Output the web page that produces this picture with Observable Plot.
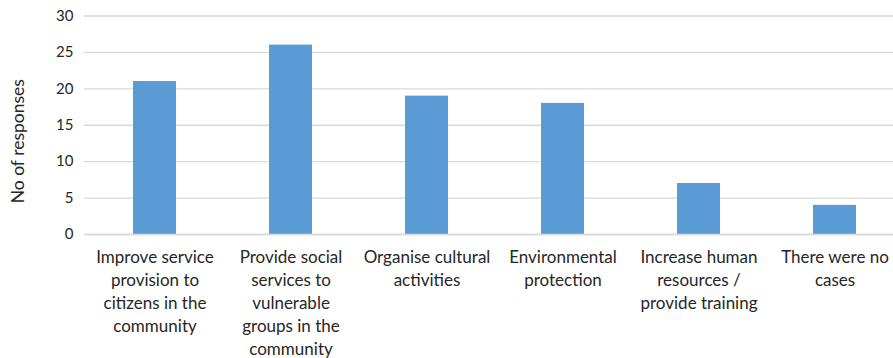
<!DOCTYPE html>
<html><head><meta charset="utf-8">
<script src="https://cdn.jsdelivr.net/npm/d3@7"></script>
<script src="https://cdn.jsdelivr.net/npm/@observablehq/plot@0.6"></script>
<style>
html,body{margin:0;padding:0;background:#fff;overflow:hidden;width:893px;height:358px;}
svg{display:block;max-width:none !important;height:358px !important;}
</style></head>
<body><div id="chart"></div>
<script>
const categories = [
  "Improve service provision to citizens in the community",
  "Provide social services to vulnerable groups in the community",
  "Organise cultural activities",
  "Environmental protection",
  "Increase human resources / provide training",
  "There were no cases"
];
const wrappedLabels = [
  "Improve service\nprovision to\ncitizens in the\ncommunity",
  "Provide social\nservices to\nvulnerable\ngroups in the\ncommunity",
  "Organise cultural\nactivities",
  "Environmental\nprotection",
  "Increase human\nresources /\nprovide training",
  "There were no\ncases"
];
const values = [21, 26, 19, 18, 7, 4];
const yTicks = [0, 5, 10, 15, 20, 25, 30];
const yLabel = "No of responses";

const data = categories.map((c, i) => ({category: c, value: values[i]}));
const labelOf = new Map(categories.map((c, i) => [c, wrappedLabels[i]]));

const chart = Plot.plot({
  width: 904,
  height: 358,
  marginLeft: 84,
  marginRight: 0,
  marginTop: 15.5,
  marginBottom: 124,
  style: {fontFamily: "Lato, 'Open Sans', sans-serif", fontSize: "15px", color: "#262626", background: "#fff"},
  x: {domain: categories, paddingInner: 0.685, paddingOuter: 0.3425, label: null},
  y: {domain: [0, 30], label: null},
  marks: [
    Plot.gridY(yTicks, {stroke: "#d9d9d9", strokeOpacity: 1, strokeWidth: 1.3}),
    Plot.barY(data, {x: "category", y: "value", fill: "#5B9BD5"}),
    Plot.ruleY([0], {stroke: "#d9d9d9", strokeWidth: 1.5}),
    Plot.axisY(yTicks, {tickSize: 0, tickPadding: 11, label: null, fontSize: 15, fill: "#262626"}),
    Plot.axisX({tickSize: 0, tickPadding: 12, label: null, tickFormat: d => labelOf.get(d), lineHeight: 1.36, fontSize: 17, fill: "#262626"}),
    Plot.text([yLabel], {frameAnchor: "left", textAnchor: "middle", dx: -66, dy: 16, rotate: -90, fontSize: 17.5, fill: "#262626"})
  ]
});
document.getElementById("chart").appendChild(chart);
</script>
</body></html>
